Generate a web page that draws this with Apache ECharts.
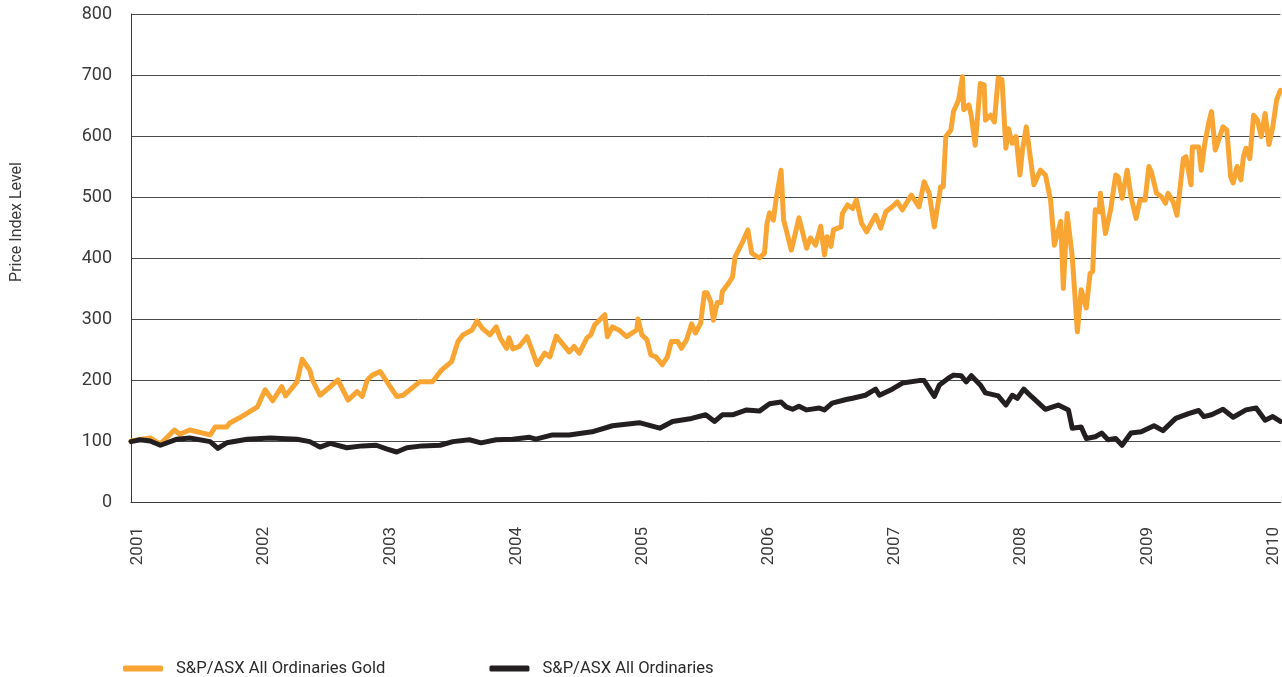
<!DOCTYPE html>
<html>
<head>
<meta charset="utf-8">
<script src="https://cdn.jsdelivr.net/npm/echarts@6/dist/echarts.min.js"></script>
<style>
  html, body { margin: 0; padding: 0; background: #fff; }
  #chart { width: 1282px; height: 677px; }
</style>
</head>
<body>
<div id="chart"></div>
<script>
// values, x in decimal years
const goldYears = [
  2001.00, 2001.15, 2001.23, 2001.34, 2001.38, 2001.46, 2001.62, 2001.66, 2001.75, 2001.77,
  2001.85, 2001.99, 2002.05, 2002.11, 2002.18, 2002.21, 2002.30, 2002.34, 2002.40, 2002.42,
  2002.48, 2002.56, 2002.62, 2002.70, 2002.77, 2002.81, 2002.85, 2002.89, 2002.95, 2003.08,
  2003.13, 2003.26, 2003.36, 2003.43, 2003.51, 2003.56, 2003.60, 2003.67, 2003.71, 2003.75,
  2003.81, 2003.86, 2003.89, 2003.94, 2003.96, 2003.99, 2004.04, 2004.10, 2004.14, 2004.18,
  2004.24, 2004.28, 2004.33, 2004.43, 2004.47, 2004.51, 2004.57, 2004.60, 2004.63, 2004.71,
  2004.73, 2004.77, 2004.82, 2004.88, 2004.96, 2004.97, 2005.00, 2005.04, 2005.07, 2005.11,
  2005.16, 2005.20, 2005.23, 2005.28, 2005.31, 2005.35, 2005.39, 2005.42, 2005.46, 2005.49,
  2005.51, 2005.54, 2005.56, 2005.59, 2005.62, 2005.63, 2005.68, 2005.71, 2005.73, 2005.79,
  2005.83, 2005.86, 2005.92, 2005.96, 2005.98, 2006.00, 2006.03, 2006.05, 2006.09, 2006.11,
  2006.13, 2006.17, 2006.19, 2006.23, 2006.29, 2006.32, 2006.36, 2006.40, 2006.43, 2006.45,
  2006.48, 2006.50, 2006.56, 2006.57, 2006.61, 2006.65, 2006.68, 2006.72, 2006.76, 2006.83,
  2006.87, 2006.91, 2006.96, 2007.00, 2007.04, 2007.11, 2007.17, 2007.21, 2007.25, 2007.29,
  2007.34, 2007.36, 2007.38, 2007.42, 2007.44, 2007.48, 2007.51, 2007.52, 2007.56, 2007.58,
  2007.61, 2007.65, 2007.68, 2007.69, 2007.73, 2007.76, 2007.79, 2007.82, 2007.85, 2007.87,
  2007.90, 2007.93, 2007.96, 2007.98, 2008.01, 2008.07, 2008.12, 2008.16, 2008.20, 2008.23,
  2008.28, 2008.30, 2008.33, 2008.37, 2008.41, 2008.44, 2008.48, 2008.51, 2008.53, 2008.55,
  2008.58, 2008.59, 2008.63, 2008.67, 2008.71, 2008.73, 2008.76, 2008.80, 2008.83, 2008.87,
  2008.90, 2008.94, 2008.97, 2008.99, 2009.03, 2009.07, 2009.10, 2009.12, 2009.16, 2009.19,
  2009.24, 2009.26, 2009.30, 2009.31, 2009.36, 2009.38, 2009.41, 2009.44, 2009.46, 2009.49,
  2009.52, 2009.55, 2009.58, 2009.61, 2009.63, 2009.66, 2009.69, 2009.71, 2009.73, 2009.76,
  2009.79, 2009.82, 2009.85, 2009.88, 2009.91, 2009.94, 2009.97, 2010.00
];
const goldValues = [
  100, 105, 95, 118, 111, 118, 110, 123, 123, 129,
  138, 156, 184, 166, 189, 174, 197, 234, 216, 200,
  175, 189, 200, 167, 181, 173, 200, 208, 214, 173,
  175, 197, 197, 216, 230, 263, 274, 282, 297, 285,
  274, 287, 269, 252, 269, 251, 255, 271, 249, 225,
  244, 238, 272, 246, 255, 244, 269, 274, 290, 307,
  271, 287, 282, 271, 282, 300, 274, 266, 241, 238,
  225, 238, 263, 263, 252, 266, 292, 277, 293, 343,
  343, 328, 298, 327, 327, 345, 359, 369, 402, 427,
  446, 408, 400, 408, 457, 474, 462, 495, 544, 462,
  446, 413, 430, 466, 416, 433, 421, 452, 405, 435,
  419, 446, 451, 473, 487, 481, 495, 457, 443, 470,
  449, 476, 484, 492, 479, 503, 484, 525, 506, 451,
  517, 517, 599, 610, 640, 659, 697, 643, 651, 632,
  585, 686, 684, 626, 634, 623, 695, 692, 580, 612,
  588, 599, 536, 577, 615, 520, 544, 536, 495, 421,
  460, 350, 473, 402, 279, 348, 318, 375, 378, 479,
  476, 506, 440, 479, 536, 533, 498, 544, 500, 465,
  495, 495, 550, 541, 506, 500, 490, 506, 492, 470,
  563, 566, 520, 582, 582, 544, 591, 623, 640, 577,
  596, 615, 610, 533, 523, 550, 528, 566, 580, 563,
  634, 626, 599, 637, 586, 615, 659, 675
];

const ordYears = [
  2001.00, 2001.07, 2001.15, 2001.23, 2001.36, 2001.46, 2001.62, 2001.68, 2001.75, 2001.91,
  2002.09, 2002.30, 2002.40, 2002.48, 2002.56, 2002.69, 2002.81, 2002.92, 2003.00, 2003.08,
  2003.16, 2003.28, 2003.42, 2003.52, 2003.65, 2003.74, 2003.86, 2003.99, 2004.12, 2004.17,
  2004.30, 2004.43, 2004.61, 2004.77, 2004.98, 2005.14, 2005.24, 2005.39, 2005.50, 2005.57,
  2005.63, 2005.71, 2005.82, 2005.92, 2006.00, 2006.09, 2006.13, 2006.18, 2006.23, 2006.29,
  2006.39, 2006.43, 2006.49, 2006.60, 2006.65, 2006.75, 2006.83, 2006.86, 2006.96, 2007.04,
  2007.17, 2007.21, 2007.29, 2007.33, 2007.40, 2007.44, 2007.50, 2007.54, 2007.58, 2007.65,
  2007.69, 2007.79, 2007.85, 2007.90, 2007.94, 2007.99, 2008.05, 2008.16, 2008.26, 2008.34,
  2008.37, 2008.44, 2008.48, 2008.55, 2008.60, 2008.65, 2008.71, 2008.76, 2008.83, 2008.91,
  2009.01, 2009.08, 2009.18, 2009.28, 2009.36, 2009.40, 2009.46, 2009.55, 2009.63, 2009.73,
  2009.81, 2009.88, 2009.94, 2010.00
];
const ordValues = [
  99, 102, 100, 93, 103, 105, 99, 88, 97, 103,
  105, 103, 99, 90, 96, 89, 92, 93, 87, 82,
  89, 92, 93, 99, 102, 97, 102, 103, 106, 103,
  110, 110, 115, 125, 130, 121, 132, 137, 143, 132,
  143, 143, 151, 149, 161, 164, 156, 152, 157, 151,
  154, 151, 162, 168, 170, 175, 185, 175, 185, 195,
  199, 199, 173, 192, 203, 208, 207, 197, 207, 192,
  179, 174, 159, 175, 170, 185, 173, 152, 159, 151,
  121, 123, 104, 107, 113, 102, 104, 93, 113, 115,
  125, 117, 137, 145, 150, 140, 143, 152, 139, 151,
  154, 134, 140, 132
];

const yearTicks = [2001, 2002, 2003, 2004, 2005, 2006, 2007, 2008, 2009, 2010];
const seriesNames = ['S&P/ASX All Ordinaries Gold', 'S&P/ASX All Ordinaries'];

const pair = (xs, ys) => xs.map((x, i) => [x, ys[i]]);

const chart = echarts.init(document.getElementById('chart'));
const font = 'Roboto, "DejaVu Sans", sans-serif';

chart.setOption({
  animation: false,
  grid: { left: 131, right: 0, top: 14, bottom: 175, containLabel: false },
  xAxis: [
    {
      type: 'value',
      min: 2001,
      max: 2010,
      interval: 1,
      axisLine: { show: true, lineStyle: { color: '#3a3a3a', width: 1 } },
      axisTick: { show: false },
      splitLine: { show: false },
      axisLabel: { show: false }
    },
    {
      // label-only axis: the year labels sit a little inside the ends
      type: 'value',
      position: 'bottom',
      min: 2000.945,
      max: 2010.055,
      axisLine: { show: false },
      axisTick: { show: false },
      splitLine: { show: false },
      axisLabel: {
        customValues: yearTicks,
        rotate: 90,
        margin: 25,
        color: '#3a3a3a',
        fontFamily: font,
        fontSize: 17,
        formatter: v => String(Math.round(v))
      }
    }
  ],
  yAxis: {
    type: 'value',
    min: 0,
    max: 800,
    interval: 100,
    axisLine: { show: true, lineStyle: { color: '#3a3a3a', width: 1 } },
    axisTick: { show: false },
    splitLine: { show: true, lineStyle: { color: '#4a4a4a', width: 1 } },
    axisLabel: { margin: 19, color: '#3a3a3a', fontFamily: font, fontSize: 18 }
  },
  legend: {
    left: 123,
    top: 660,
    padding: 0,
    icon: 'roundRect',
    itemWidth: 40,
    itemHeight: 6,
    itemGap: 104,
    textStyle: { color: '#2a2a2a', fontFamily: font, fontSize: 16.6, padding: [0, 0, 0, 8] },
    data: seriesNames
  },
  graphic: [{
    type: 'text',
    x: 17,
    y: 222,
    rotation: Math.PI / 2,
    style: {
      text: 'Price Index Level',
      fill: '#3a3a3a',
      font: '16px ' + font,
      align: 'center',
      verticalAlign: 'middle'
    }
  }],
  series: [
    {
      name: seriesNames[0],
      type: 'line',
      data: pair(goldYears, goldValues),
      symbol: 'none',
      lineStyle: { color: '#F9A533', width: 5, join: 'round', cap: 'round' },
      itemStyle: { color: '#F9A533' }
    },
    {
      name: seriesNames[1],
      type: 'line',
      data: pair(ordYears, ordValues),
      symbol: 'none',
      lineStyle: { color: '#231F20', width: 5, join: 'round', cap: 'round' },
      itemStyle: { color: '#231F20' }
    }
  ]
});
</script>
</body>
</html>
